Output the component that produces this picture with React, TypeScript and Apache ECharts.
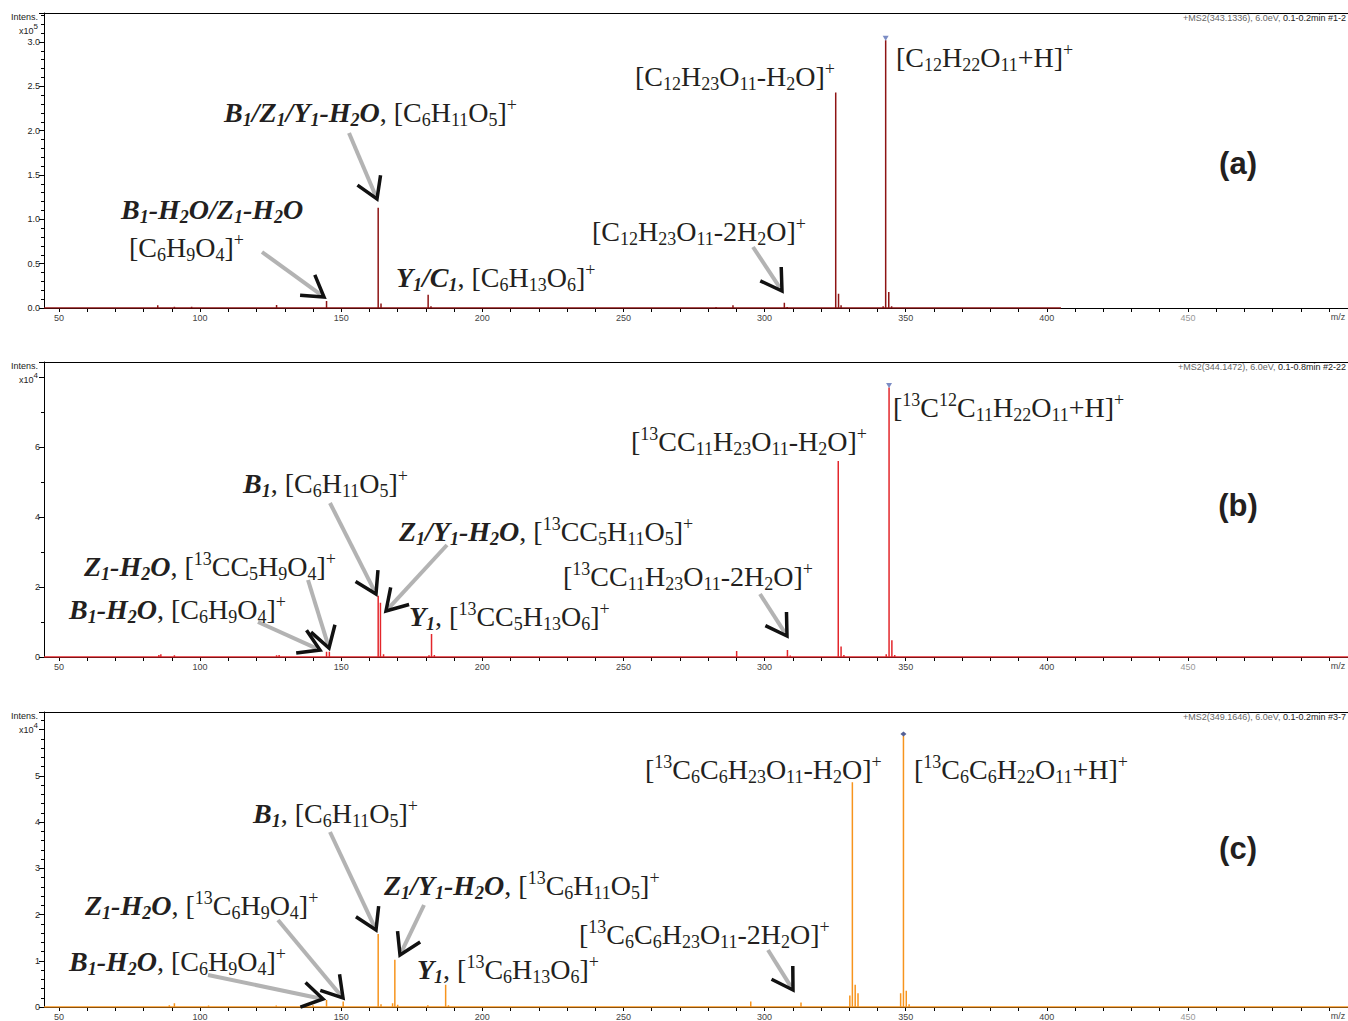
import React, { useEffect, useRef } from 'react';
import * as echarts from 'echarts';

const W = 1348;
const H = 1021;
const SERIF = "'Liberation Serif', 'Times New Roman', serif";
const SANS = "'Liberation Sans', Arial, sans-serif";
const TXT = '#231f20';

// x axis (m/z)
const X_MIN = 44.7;
const X_MAX = 506.7;
const xTickValues = [50, 60, 70, 80, 90, 100, 110, 120, 130, 140, 150, 160, 170, 180, 190, 200, 210, 220, 230, 240, 250, 260, 270, 280, 290, 300, 310, 320, 330, 340, 350, 360, 370, 380, 390, 400, 410, 420, 430, 440, 450, 460, 470, 480, 490, 500];
const xLabelValues = [50, 100, 150, 200, 250, 300, 350, 400, 450];

// Panel (a) peaks, intensity x10^5
const mzA = [85.0, 90.9, 97.0, 127.1, 144.8, 163.1, 164.1, 180.8, 181.8, 282.8, 288.8, 307.0, 308.0, 325.2, 326.2, 327.1, 342.0, 342.9, 344.0, 345.0];
const intA = [0.03, 0.015, 0.015, 0.035, 0.08, 1.13, 0.05, 0.15, 0.02, 0.012, 0.03, 0.06, 0.01, 2.43, 0.16, 0.03, 0.02, 3.02, 0.18, 0.02];
const precursorA = [342.9, 3.02];

// Panel (b) peaks, intensity x10^4
const mzB = [85.4, 86.1, 90.9, 127.1, 128.0, 144.8, 145.8, 163.1, 163.9, 165.0, 181.1, 182.0, 183.0, 290.1, 308.1, 309.1, 326.1, 327.1, 328.1, 343.1, 344.1, 345.1, 346.1];
const intB = [0.06, 0.08, 0.05, 0.05, 0.06, 0.15, 0.15, 1.75, 1.55, 0.08, 0.05, 0.66, 0.06, 0.17, 0.2, 0.04, 5.6, 0.3, 0.06, 0.08, 7.7, 0.48, 0.06];
const precursorB = [344.1, 7.7];

// Panel (c) peaks, intensity x10^4
const mzC = [89.1, 90.9, 103.0, 127.0, 140.0, 144.8, 150.7, 163.1, 164.1, 168.2, 169.0, 170.0, 180.7, 187.0, 188.0, 295.1, 312.9, 330.2, 331.1, 332.1, 333.1, 348.2, 349.2, 350.2, 351.2];
const intC = [0.04, 0.08, 0.03, 0.03, 0.04, 0.15, 0.12, 1.58, 0.06, 0.08, 1.02, 0.05, 0.04, 0.48, 0.04, 0.12, 0.1, 0.25, 4.86, 0.48, 0.3, 0.3, 5.86, 0.35, 0.06];
const precursorC = [349.2, 5.86];

const headerA = ['+MS2(343.1336), 6.0eV, ', '0.1-0.2min #1-2'];
const headerB = ['+MS2(344.1472), 6.0eV, ', '0.1-0.8min #2-22'];
const headerC = ['+MS2(349.1646), 6.0eV, ', '0.1-0.2min #3-7'];

// annotations: [markup, left x, center y]
const labelsA: [string, number, number][] = [
  ['[C_{12}H_{22}O_{11}+H]^{+}', 896, 57],
  ['[C_{12}H_{23}O_{11}-H_{2}O]^{+}', 635, 76],
  ['**B_{1}/Z_{1}/Y_{1}-H_{2}O**, [C_{6}H_{11}O_{5}]^{+}', 224, 112],
  ['**B_{1}-H_{2}O/Z_{1}-H_{2}O**', 121, 209],
  ['[C_{6}H_{9}O_{4}]^{+}', 129, 247],
  ['**Y_{1}/C_{1}**, [C_{6}H_{13}O_{6}]^{+}', 396, 277],
  ['[C_{12}H_{23}O_{11}-2H_{2}O]^{+}', 592, 231],
];
const labelsB: [string, number, number][] = [
  ['[^{13}C^{12}C_{11}H_{22}O_{11}+H]^{+}', 893, 407],
  ['[^{13}CC_{11}H_{23}O_{11}-H_{2}O]^{+}', 631, 441],
  ['**B_{1}**, [C_{6}H_{11}O_{5}]^{+}', 243, 483],
  ['**Z_{1}/Y_{1}-H_{2}O**, [^{13}CC_{5}H_{11}O_{5}]^{+}', 399, 531],
  ['**Z_{1}-H_{2}O**, [^{13}CC_{5}H_{9}O_{4}]^{+}', 84, 566],
  ['[^{13}CC_{11}H_{23}O_{11}-2H_{2}O]^{+}', 563, 576],
  ['**B_{1}-H_{2}O**, [C_{6}H_{9}O_{4}]^{+}', 69, 609],
  ['**Y_{1}**, [^{13}CC_{5}H_{13}O_{6}]^{+}', 409, 616],
];
const labelsC: [string, number, number][] = [
  ['[^{13}C_{6}C_{6}H_{22}O_{11}+H]^{+}', 914, 769],
  ['[^{13}C_{6}C_{6}H_{23}O_{11}-H_{2}O]^{+}', 645, 769],
  ['**B_{1}**, [C_{6}H_{11}O_{5}]^{+}', 253, 813],
  ['**Z_{1}/Y_{1}-H_{2}O**, [^{13}C_{6}H_{11}O_{5}]^{+}', 384, 885],
  ['**Z_{1}-H_{2}O**, [^{13}C_{6}H_{9}O_{4}]^{+}', 85, 905],
  ['[^{13}C_{6}C_{6}H_{23}O_{11}-2H_{2}O]^{+}', 579, 934],
  ['**B_{1}-H_{2}O**, [C_{6}H_{9}O_{4}]^{+}', 69, 961],
  ['**Y_{1}**, [^{13}C_{6}H_{13}O_{6}]^{+}', 417, 969],
];

// arrows: [x0, y0, tipX, tipY]
const arrowsA = [
  [349, 133, 377, 199],
  [262, 252, 324, 297],
  [753, 247, 782, 291],
];
const arrowsB = [
  [330, 503, 376, 594],
  [447, 545, 386, 611],
  [308, 580, 329, 648],
  [258, 622, 320, 650],
  [760, 594, 787, 636],
];
const arrowsC = [
  [330, 832, 376, 930],
  [424, 905, 400, 955],
  [278, 920, 343, 998],
  [208, 975, 323, 999],
  [768, 950, 793, 990],
];

function toRich(s: string): string {
  let out = '';
  let bold = false;
  let buf = '';
  let i = 0;
  const flush = () => {
    if (buf) {
      out += `{${bold ? 'b' : 'n'}|${buf}}`;
      buf = '';
    }
  };
  while (i < s.length) {
    if (s.startsWith('**', i)) {
      flush();
      bold = !bold;
      i += 2;
      continue;
    }
    if ((s[i] === '_' || s[i] === '^') && s[i + 1] === '{') {
      flush();
      const end = s.indexOf('}', i);
      const inner = s.slice(i + 2, end);
      const kind = s[i] === '_' ? 's' : 'p';
      out += `{${bold ? 'b' : ''}${kind}|${inner}}`;
      i = end + 1;
      continue;
    }
    buf += s[i];
    i++;
  }
  flush();
  return out;
}

const MAIN = 28;
const SMALL = 18;
const LINE_H = 30;
const richStyles = {
  n: { fontFamily: SERIF, fontSize: MAIN, fill: TXT, color: TXT, verticalAlign: 'middle' },
  b: { fontFamily: SERIF, fontSize: MAIN, fontWeight: 'bold', fontStyle: 'italic', fill: TXT, color: TXT, verticalAlign: 'middle' },
  s: { fontFamily: SERIF, fontSize: SMALL, fill: TXT, color: TXT, verticalAlign: 'bottom', height: 14 },
  p: { fontFamily: SERIF, fontSize: SMALL, fill: TXT, color: TXT, verticalAlign: 'top', height: 16 },
  bs: { fontFamily: SERIF, fontSize: SMALL, fontWeight: 'bold', fontStyle: 'italic', fill: TXT, color: TXT, verticalAlign: 'bottom', height: 14 },
  bp: { fontFamily: SERIF, fontSize: SMALL, fontWeight: 'bold', fontStyle: 'italic', fill: TXT, color: TXT, verticalAlign: 'top', height: 16 },
};

function labelEl(markup: string, x: number, y: number) {
  return {
    type: 'text',
    x,
    y,
    z: 50,
    style: {
      text: toRich(markup),
      rich: richStyles,
      lineHeight: LINE_H,
      fontFamily: SERIF,
      fontSize: MAIN,
      fill: TXT,
      align: 'left',
      textAlign: 'left',
      verticalAlign: 'middle',
      textVerticalAlign: 'middle',
    },
  };
}

function arrowEls(a: number[]) {
  const [x0, y0, xt, yt] = a;
  const dx = xt - x0;
  const dy = yt - y0;
  const len = Math.hypot(dx, dy);
  const ux = dx / len;
  const uy = dy / len;
  const back = Math.atan2(-uy, -ux);
  const L = 24;
  const ang = 0.55;
  const p1 = [xt + L * Math.cos(back + ang), yt + L * Math.sin(back + ang)];
  const p2 = [xt + L * Math.cos(back - ang), yt + L * Math.sin(back - ang)];
  return [
    {
      type: 'line',
      z: 40,
      shape: { x1: x0, y1: y0, x2: xt - ux * 4, y2: yt - uy * 4 },
      style: { stroke: '#b3b3b3', lineWidth: 4 },
    },
    {
      type: 'polyline',
      z: 41,
      shape: { points: [p1, [xt, yt], p2] },
      style: { stroke: '#111', lineWidth: 3.5, fill: null, lineJoin: 'miter' },
    },
  ];
}

function stickData(mz: number[], inten: number[], end: number) {
  const d: number[][] = [[X_MIN, 0]];
  mz.forEach((m, i) => {
    d.push([m, 0], [m, inten[i]], [m, 0]);
  });
  d.push([end, 0]);
  return d;
}

const panels = [
  {
    top: 13, yMax: 3.327, yInt: 0.5, minor: 5, hide: -1, exp: '5', fmt: (v: number) => v.toFixed(1),
    color: '#8e1414', mz: mzA, inten: intA, end: 405, prec: precursorA, sym: 'triangle', symRot: 180, symColor: '#5a6fb5',
    header: headerA, labels: labelsA, arrows: arrowsA, tag: '(a)', tagY: 163, expY: 29,
  },
  {
    top: 362, yMax: 8.43, yInt: 2, minor: 2, hide: 8, exp: '4', fmt: (v: number) => String(v),
    color: '#e3262b', mz: mzB, inten: intB, end: X_MAX, prec: precursorB, sym: 'triangle', symRot: 180, symColor: '#5a6fb5',
    header: headerB, labels: labelsB, arrows: arrowsB, tag: '(b)', tagY: 505, expY: 378,
  },
  {
    top: 712, yMax: 6.38, yInt: 1, minor: 5, hide: 6, exp: '4', fmt: (v: number) => String(v),
    color: '#f7941d', mz: mzC, inten: intC, end: X_MAX, prec: precursorC, sym: 'diamond', symRot: 0, symColor: '#2b3a7a',
    header: headerC, labels: labelsC, arrows: arrowsC, tag: '(c)', tagY: 848, expY: 728,
  },
];

function buildOption() {
  const graphics: any[] = [];
  panels.forEach((p) => {
    graphics.push({
      type: 'line', z: 10,
      shape: { x1: 44, y1: p.top + 0.5, x2: W, y2: p.top + 0.5 },
      style: { stroke: '#000', lineWidth: 1 },
    });
    graphics.push({
      type: 'text', x: W - 2, y: p.top + 5,
      style: {
        text: `{g|${p.header[0]}}{k|${p.header[1]}}`,
        rich: {
          g: { fontFamily: SANS, fontSize: 9, fill: '#666' },
          k: { fontFamily: SANS, fontSize: 9, fill: '#222' },
        },
        align: 'right', textAlign: 'right', verticalAlign: 'middle', textVerticalAlign: 'middle',
      },
    });
    graphics.push({
      type: 'text', x: 38, y: p.top + 4,
      style: { text: 'Intens.', fontFamily: SANS, fontSize: 9, fill: '#222', align: 'right', textAlign: 'right', verticalAlign: 'middle', textVerticalAlign: 'middle' },
    });
    graphics.push({
      type: 'text', x: 38, y: p.expY,
      style: {
        text: `{n|x10}{p|${p.exp}}`,
        rich: {
          n: { fontFamily: SANS, fontSize: 9, fill: '#222', verticalAlign: 'bottom', height: 10 },
          p: { fontFamily: SANS, fontSize: 8, fill: '#222', verticalAlign: 'top', height: 8 },
        },
        lineHeight: 14,
        align: 'right', textAlign: 'right', verticalAlign: 'middle', textVerticalAlign: 'middle',
      },
    });
    graphics.push({
      type: 'text', x: 1338, y: p.top + 304,
      style: { text: 'm/z', fontFamily: SANS, fontSize: 9, fill: '#444', align: 'center', textAlign: 'center', verticalAlign: 'middle', textVerticalAlign: 'middle' },
    });
    graphics.push({
      type: 'text', x: 1238, y: p.tagY,
      style: { text: p.tag, fontFamily: SANS, fontSize: 31, fontWeight: 'bold', fill: TXT, align: 'center', textAlign: 'center', verticalAlign: 'middle', textVerticalAlign: 'middle' },
    });
    p.labels.forEach(([t, x, y]) => graphics.push(labelEl(t, x, y)));
    p.arrows.forEach((a) => graphics.push(...arrowEls(a)));
  });

  return {
    animation: false,
    backgroundColor: '#fff',
    grid: panels.map((p) => ({ left: 44, top: p.top, width: W - 44, height: 295 })),
    xAxis: panels.map((p, i) => ({
      type: 'value',
      gridIndex: i,
      min: X_MIN,
      max: X_MAX,
      axisLine: { show: true, onZero: false, lineStyle: { color: '#000', width: 1 } },
      axisTick: { show: true, length: 4, customValues: xTickValues, lineStyle: { color: '#000' } },
      axisLabel: {
        customValues: xLabelValues,
        fontSize: 9,
        fontFamily: SANS,
        color: (v: any) => (Number(v) === 450 ? '#999' : '#444'),
        margin: 5,
      },
      splitLine: { show: false },
    })),
    yAxis: panels.map((p, i) => ({
      type: 'value',
      gridIndex: i,
      min: 0,
      max: p.yMax,
      interval: p.yInt,
      axisLine: { show: true, lineStyle: { color: '#000', width: 1 } },
      axisTick: { show: true, length: 5, lineStyle: { color: '#000' } },
      minorTick: { show: true, splitNumber: p.minor, length: 3, lineStyle: { color: '#000' } },
      axisLabel: {
        fontSize: 9,
        fontFamily: SANS,
        color: '#222',
        margin: 4,
        formatter: (v: number) => {
          const k = v / p.yInt;
          if (Math.abs(k - Math.round(k)) > 1e-6) return '';
          if (Math.abs(v - p.hide) < 1e-6) return '';
          return p.fmt(v);
        },
      },
      splitLine: { show: false },
    })),
    series: panels.flatMap((p, i) => [
      {
        type: 'line',
        xAxisIndex: i,
        yAxisIndex: i,
        data: stickData(p.mz, p.inten, p.end),
        showSymbol: false,
        symbol: 'none',
        lineStyle: { color: p.color, width: 1.5 },
        silent: true,
        z: 3,
      },
      {
        type: 'scatter',
        xAxisIndex: i,
        yAxisIndex: i,
        data: [p.prec],
        symbol: p.sym,
        symbolRotate: p.symRot,
        symbolSize: [6, 5],
        symbolOffset: [0, -2],
        itemStyle: { color: p.symColor },
        silent: true,
        z: 4,
      },
    ]),
    graphic: { elements: graphics },
  };
}

export default function App() {
  const ref = useRef<HTMLDivElement>(null);
  useEffect(() => {
    document.body.style.margin = '0';
    const chart = echarts.init(ref.current!, null, { renderer: 'svg', width: W, height: H });
    chart.setOption(buildOption() as any);
    return () => chart.dispose();
  }, []);
  return (
    <div
      ref={ref}
      style={{ width: W, height: H, position: 'absolute', left: 0, top: 0, background: '#fff' }}
    />
  );
}
